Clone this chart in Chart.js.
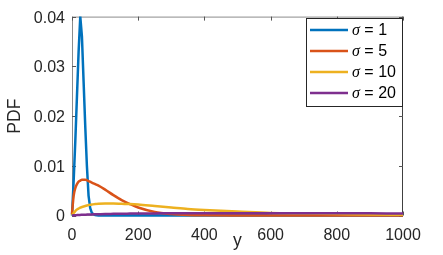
<!DOCTYPE html>
<html><head><meta charset="utf-8">
<script src="https://cdn.jsdelivr.net/npm/chart.js@4/dist/chart.umd.min.js"></script>
<style>html,body{margin:0;padding:0;background:#fff;}#wrap{width:443px;height:255px;}</style>
</head><body><div id="wrap"><canvas id="c" width="443" height="255"></canvas></div>
<script>
// ---- data ----
const yPoints = [0,5,10,15,20,25,30,35,40,45,50,55,60,70,80,100,125,150,175,200,250,300,350,400,500,600,700,800,900,1000];
const sigmas = [1, 5, 10, 20];
const pdfSigma1 = [0,0.007,0.015,0.024,0.033,0.040,0.036,0.027,0.018,0.010,0.004,0.0015,0.0005,0.0001,0,0,0,0,0,0,0,0,0,0,0,0,0,0,0,0];
const pdfSigma5 = [0.0003,0.004,0.0055,0.0063,0.0068,0.0070,0.0072,0.0072,0.0072,0.0071,0.0069,0.0068,0.0066,0.0063,0.0060,0.0052,0.0041,0.0031,0.0023,0.0016,0.0007,0.0003,0.00012,0.00005,0.00001,0,0,0,0,0];
const pdfSigma10 = [0,0.0005,0.0009,0.0012,0.0014,0.0016,0.0017,0.0018,0.0019,0.0020,0.0021,0.00215,0.0022,0.0023,0.00235,0.0024,0.0024,0.00235,0.0023,0.0022,0.0019,0.0016,0.0013,0.0011,0.0008,0.0005,0.0004,0.0003,0.0002,0.00015];
const pdfSigma20 = [0,0.00003,0.00006,0.00008,0.0001,0.00012,0.00014,0.00015,0.00017,0.00018,0.0002,0.00021,0.00022,0.00024,0.00026,0.0003,0.00033,0.00036,0.00038,0.0004,0.00042,0.00044,0.00045,0.00046,0.00046,0.00046,0.00045,0.00044,0.00043,0.00042];
const xTicks = [0,200,400,600,800,1000];
const yTicks = [0,0.01,0.02,0.03,0.04];
const xLabel = 'y';
const yLabel = 'PDF';

const series = [pdfSigma1, pdfSigma5, pdfSigma10, pdfSigma20];
const colors = ['#0072BD','#D95319','#EDB120','#7E2F8E'];
const textColor = '#262626';

const datasets = series.map((vals, i) => ({
  label: 'σ = ' + sigmas[i],
  data: yPoints.map((x, k) => ({x: x, y: vals[k]})),
  borderColor: colors[i],
  backgroundColor: colors[i],
  borderWidth: 2.5,
  pointRadius: 0,
  tension: 0,
  cubicInterpolationMode: i === 0 ? 'default' : 'monotone',
  fill: false,
  order: sigmas.length - 1 - i,
  clip: 3
}));

const frame = {
  id: 'frame',
  beforeDatasetsDraw(chart) {
    const {ctx, chartArea: a, scales: {x, y}} = chart;
    ctx.save();
    ctx.lineWidth = 1;
    ctx.strokeStyle = '#8c8c8c';
    ctx.beginPath();
    ctx.moveTo(a.left + 0.5, a.bottom); ctx.lineTo(a.left + 0.5, a.top + 0.5); ctx.lineTo(a.right, a.top + 0.5);
    ctx.stroke();
    ctx.strokeStyle = '#404040';
    ctx.beginPath();
    ctx.moveTo(a.right - 0.5, a.top); ctx.lineTo(a.right - 0.5, a.bottom - 0.5); ctx.lineTo(a.left, a.bottom - 0.5);
    ctx.stroke();
    ctx.strokeStyle = '#555';
    ctx.beginPath();
    xTicks.forEach(v => {
      const px = Math.round(x.getPixelForValue(v)) + 0.5;
      ctx.moveTo(px, a.bottom); ctx.lineTo(px, a.bottom - 4);
      ctx.moveTo(px, a.top); ctx.lineTo(px, a.top + 4);
    });
    yTicks.forEach(v => {
      const py = Math.round(y.getPixelForValue(v)) + 0.5;
      ctx.moveTo(a.left, py); ctx.lineTo(a.left + 4, py);
      ctx.moveTo(a.right, py); ctx.lineTo(a.right - 4, py);
    });
    ctx.stroke();
    ctx.restore();
  },
  afterDatasetsDraw(chart) {
    const {ctx} = chart;
    ctx.save();
    const lx = 306.5, ly = 18.5, lw = 96, lh = 88;
    ctx.fillStyle = '#fff';
    ctx.fillRect(lx, ly, lw, lh);
    ctx.strokeStyle = '#262626';
    ctx.lineWidth = 1;
    ctx.strokeRect(lx, ly, lw, lh);
    chart.data.datasets.forEach((ds, i) => {
      const ry = 30 + i * 21;
      ctx.strokeStyle = ds.borderColor;
      ctx.lineWidth = 2.5;
      ctx.beginPath(); ctx.moveTo(310, ry); ctx.lineTo(348, ry); ctx.stroke();
      ctx.fillStyle = '#000';
      ctx.textBaseline = 'middle';
      ctx.textAlign = 'left';
      ctx.font = 'italic 16px "Liberation Serif", serif';
      const sym = ds.label.charAt(0);
      ctx.fillText(sym, 352, ry + 1);
      const w = ctx.measureText(sym).width;
      ctx.font = '16px "Liberation Sans", Arial, sans-serif';
      ctx.fillText(ds.label.slice(1), 352 + w, ry + 1);
    });
    ctx.restore();
  }
};

new Chart(document.getElementById('c'), {
  type: 'line',
  data: {datasets},
  options: {
    responsive: false,
    animation: false,
    devicePixelRatio: 1,
    layout: {padding: {left: 0, top: 15.5, right: 40, bottom: 0}},
    plugins: {legend: {display: false}, tooltip: {enabled: false}},
    scales: {
      x: {
        type: 'linear', min: 0, max: 1000,
        afterBuildTicks: s => { s.ticks = xTicks.map(v => ({value: v})); },
        afterFit: s => { s.height = 39.5; },
        grid: {display: false, drawTicks: false},
        border: {display: false},
        ticks: {color: textColor, padding: 10, maxRotation: 0, autoSkip: false,
                font: {family: '"Liberation Sans", Arial, sans-serif', size: 16},
                callback: v => String(v)},
        title: {display: true, text: xLabel, color: textColor, padding: {top: 0, bottom: 3},
                font: {family: '"Liberation Sans", Arial, sans-serif', size: 17.6}}
      },
      y: {
        type: 'linear', min: 0, max: 0.04,
        afterBuildTicks: s => { s.ticks = yTicks.map(v => ({value: v})); },
        afterFit: s => { s.width = 72; },
        grid: {display: false, drawTicks: false},
        border: {display: false},
        ticks: {color: textColor, padding: 7, labelOffset: 1.5, autoSkip: false,
                font: {family: '"Liberation Sans", Arial, sans-serif', size: 16},
                callback: v => String(+Number(v).toFixed(2))},
        title: {display: true, text: yLabel, color: textColor, padding: {top: 5, bottom: 0},
                font: {family: '"Liberation Sans", Arial, sans-serif', size: 17.6}}
      }
    }
  },
  plugins: [frame]
});
</script></body></html>
